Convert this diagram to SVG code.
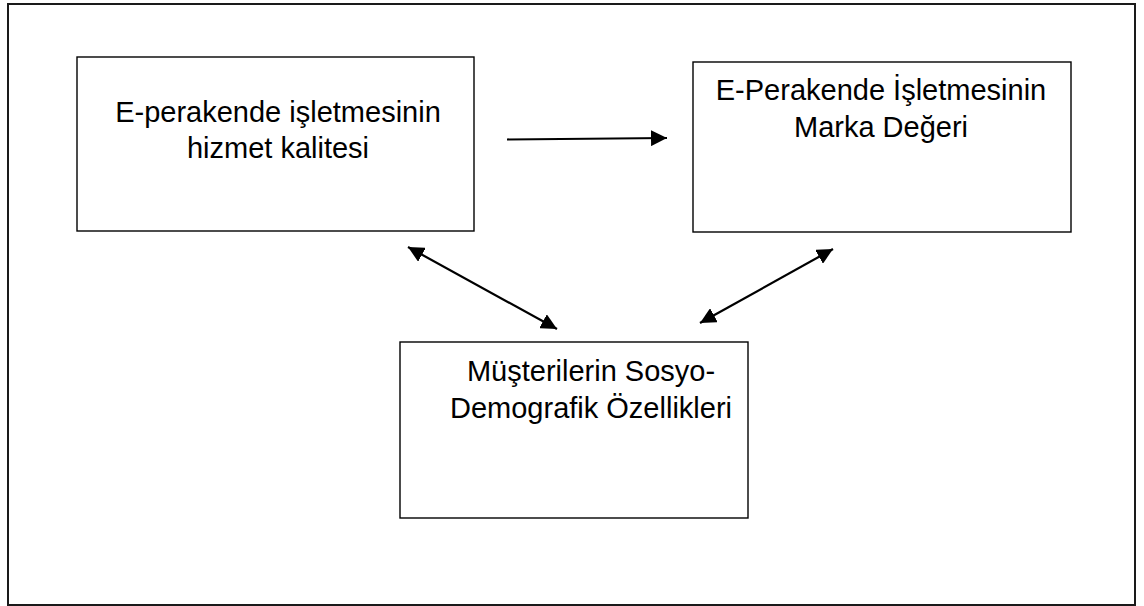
<svg xmlns="http://www.w3.org/2000/svg" width="1144" height="606" viewBox="0 0 1144 606">
  <style>
    .frame { fill: #ffffff; stroke: #1a1a1a; stroke-width: 2; }
    .box { fill: #ffffff; stroke: #000000; stroke-width: 1.4; }
    .label { font-family: "Liberation Sans", Arial, sans-serif; font-size: 29px; fill: #000000; text-anchor: middle; }
    .link { stroke: #000000; stroke-width: 2.2; fill: none; }
  </style>
  <defs>
    <marker id="head" viewBox="0 0 16 16" refX="16" refY="8" markerWidth="16" markerHeight="16" markerUnits="userSpaceOnUse" orient="auto-start-reverse">
      <path d="M0,0 L16,8 L0,16 Z" fill="#000000"/>
    </marker>
  </defs>

  <!-- outer frame -->
  <rect class="frame" x="8" y="4" width="1127" height="601"/>

  <g id="node-service-quality">
    <rect class="box" x="77" y="57" width="397" height="174"/>
    <text class="label" x="278" y="122">E-perakende işletmesinin</text>
    <text class="label" x="278" y="158">hizmet kalitesi</text>
  </g>

  <g id="node-brand-value">
    <rect class="box" x="693" y="62" width="378" height="170"/>
    <text class="label" x="881" y="100">E-Perakende İşletmesinin</text>
    <text class="label" x="881" y="137">Marka Değeri</text>
  </g>

  <g id="node-demographics">
    <rect class="box" x="400" y="342" width="348" height="176"/>
    <text class="label" x="591" y="381">Müşterilerin Sosyo-</text>
    <text class="label" x="591" y="418">Demografik Özellikleri</text>
  </g>

  <g id="connectors">
    <line class="link" x1="507" y1="139.5" x2="667" y2="138" marker-end="url(#head)"/>
    <line class="link" x1="408" y1="247" x2="557" y2="329" marker-start="url(#head)" marker-end="url(#head)"/>
    <line class="link" x1="833" y1="249" x2="700" y2="323" marker-start="url(#head)" marker-end="url(#head)"/>
  </g>
</svg>
